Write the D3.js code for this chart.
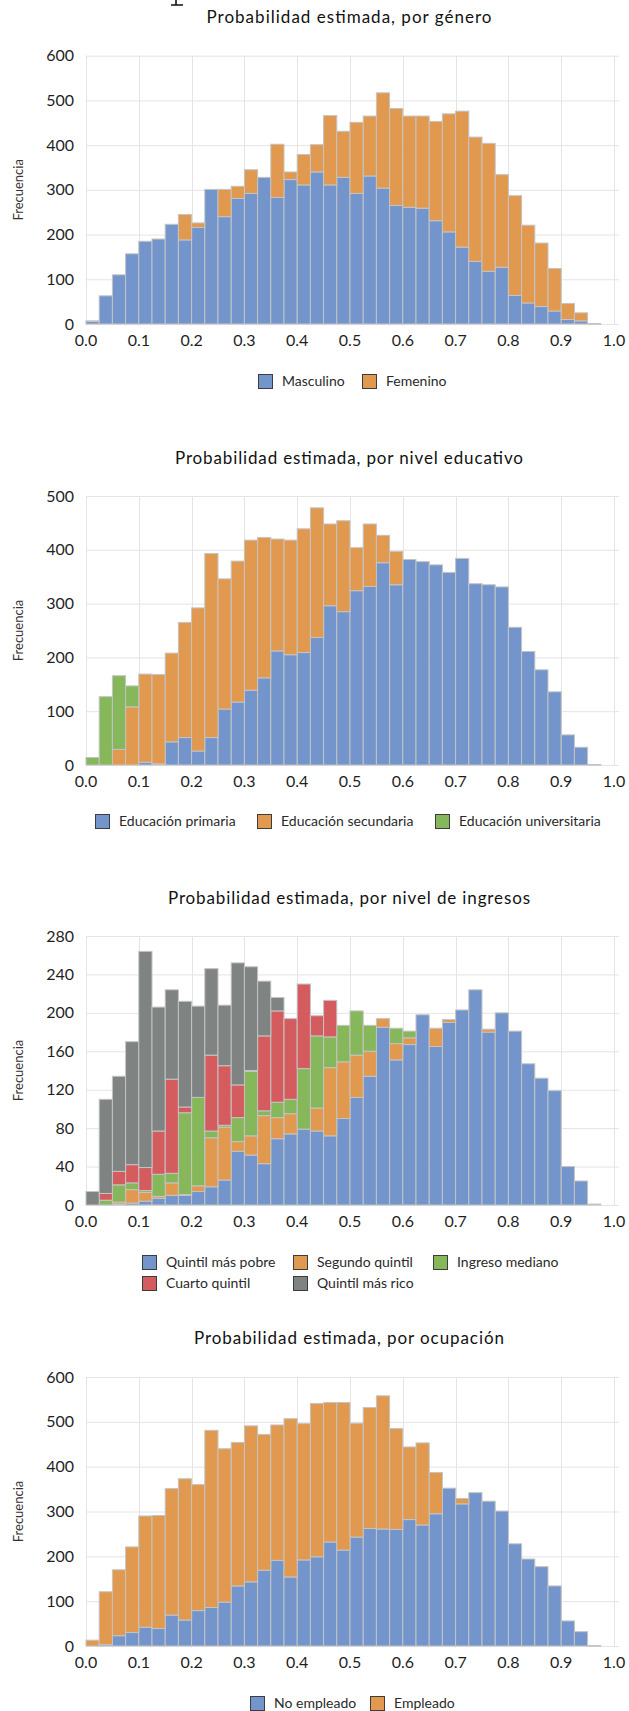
<!DOCTYPE html>
<html><head><meta charset="utf-8">
<script src="https://cdn.jsdelivr.net/npm/d3@7"></script>
<style>body{margin:0;background:#fff}svg{display:block}</style>
</head><body><svg id="c" width="629" height="1711"></svg>
<script>
// ---------- DATA ----------
const binWidth = 0.025;
const xTickLabels = ["0.0","0.1","0.2","0.3","0.4","0.5","0.6","0.7","0.8","0.9","1.0"];

const genderMasculino = [6,63,110,157,185,190,223,188,216,301,240,281,292,328,283,323,311,340,311,328,292,331,304,265,261,259,231,206,172,140,118,127,64,47,39,29,10,7,1,0];
const genderFemenino  = [1,0,0,0,0,0,0,57,10,0,61,27,53,0,119,17,68,61,155,103,159,134,213,217,204,206,222,264,304,278,286,207,223,174,142,95,36,18,0,0];

const eduPrimaria      = [0,0,0,0,5,2,43,51,26,51,104,117,139,162,212,205,209,237,296,285,324,332,376,335,382,378,372,358,384,337,335,331,256,211,177,136,56,33,1,0];
const eduSecundaria    = [0,0,29,108,164,166,165,214,266,342,242,262,279,261,208,213,230,241,152,169,80,116,51,62,0,0,0,0,0,0,0,0,0,0,0,0,0,0,0,0];
const eduUniversitaria = [14,127,137,39,0,0,0,0,0,0,0,0,0,0,0,0,0,0,0,0,0,0,0,0,0,0,0,0,0,0,0,0,0,0,0,0,0,0,0,0];

const incPobre   = [0,0,1,2,4,7,10,10,14,19,26,56,52,43,69,74,79,77,72,90,112,134,185,151,167,198,165,190,203,224,180,200,181,147,132,119,40,25,1,0];
const incSegundo = [0,0,2,14,9,2,13,1,6,51,55,10,20,50,22,21,0,24,71,59,44,26,9,17,7,0,19,3,0,0,3,0,0,0,0,0,0,0,0,0];
const incMediano = [0,5,18,7,2,23,10,85,92,7,2,25,67,5,16,15,63,75,32,38,46,27,0,16,7,0,0,0,0,0,0,0,0,0,0,0,0,0,0,0];
const incCuarto  = [0,7,14,19,24,45,98,6,0,79,62,34,1,78,95,84,88,21,38,0,0,0,0,0,0,0,0,0,0,0,0,0,0,0,0,0,0,0,0,0];
const incRico    = [14,98,99,128,225,129,93,110,95,90,63,127,108,57,14,0,0,0,0,0,0,0,0,0,0,0,0,0,0,0,0,0,0,0,0,0,0,0,0,0];

const occNoEmpleado = [0,3,23,30,42,39,69,58,79,86,98,134,143,169,191,154,192,199,232,214,243,262,261,260,282,270,295,352,317,342,323,301,228,194,177,134,56,32,1,0];
const occEmpleado   = [13,118,147,191,248,252,282,315,281,395,342,320,348,303,302,353,304,342,311,329,254,270,297,225,162,183,92,0,12,0,0,0,0,0,0,0,0,0,0,0];

const yTicks1 = [0,100,200,300,400,500,600];
const yTicks2 = [0,100,200,300,400,500];
const yTicks3 = [0,40,80,120,160,200,240,280];
const yTicks4 = [0,100,200,300,400,500,600];

// ---------- STYLE ----------
const C = {blue:"#7395CB", orange:"#E0994F", green:"#86B75A", red:"#D45C5E", gray:"#7F8382"};
const FONT = "Lato, 'Open Sans', sans-serif";
const svg = d3.select("#c");

// descender of a glyph cut off at the top edge of the page (image artifact)
svg.append("path").attr("d","M176,0 L176,4.5 M171,5 L183,5")
  .attr("stroke","#111").attr("stroke-width",1.6).attr("fill","none");

const x = d3.scaleLinear().domain([0,1]).range([86,614]);

function panel(p){
  const g = svg.append("g");
  const y = d3.scaleLinear().domain([0, d3.max(p.yTicks)]).range([p.zero, p.top]);
  // title
  g.append("text").attr("x",349).attr("y",p.titleY).attr("text-anchor","middle")
    .attr("font-family",FONT).attr("font-size",17).attr("fill","#111")
    .attr("textLength",p.titleW).attr("lengthAdjust","spacing").text(p.title);
  // grid
  g.append("g").selectAll("line.h").data(p.yTicks).join("line")
    .attr("x1",86).attr("x2",619).attr("y1",d=>y(d)+0.5).attr("y2",d=>y(d)+0.5)
    .attr("stroke","#e4e4e4").attr("stroke-width",1);
  g.append("g").selectAll("line.v").data(xTickLabels).join("line")
    .attr("x1",(d)=>Math.round(x(+d))+0.5).attr("x2",(d)=>Math.round(x(+d))+0.5)
    .attr("y1",p.top).attr("y2",p.zero).attr("stroke","#e4e4e4").attr("stroke-width",1);
  // y tick labels
  g.append("g").selectAll("text").data(p.yTicks).join("text")
    .attr("x",74).attr("y",d=>y(d)+5.5).attr("text-anchor","end")
    .attr("font-family",FONT).attr("font-size",16).attr("fill","#1f1f1f").text(d=>d);
  // x tick labels
  g.append("g").selectAll("text").data(xTickLabels).join("text")
    .attr("x",d=>x(+d)).attr("y",p.zero+22).attr("text-anchor","middle")
    .attr("font-family",FONT).attr("font-size",16).attr("fill","#1f1f1f").text(d=>d);
  // y label
  g.append("text").attr("transform",`translate(23,${(p.top+p.zero)/2}) rotate(-90)`)
    .attr("text-anchor","middle").attr("font-family",FONT).attr("font-size",13)
    .attr("fill","#333").text("Frecuencia");
  // stacked bars
  const keys = p.series.map(s=>s.name);
  const table = p.series[0].values.map((_,i)=>{
    const row = {x0:i*binWidth, x1:(i+1)*binWidth};
    p.series.forEach(s=>row[s.name]=s.values[i]);
    return row;
  });
  const stacked = d3.stack().keys(keys)(table);
  stacked.forEach((layer,k)=>{
    g.append("g").selectAll("rect").data(layer.filter(d=>d[1]-d[0]>0)).join("rect")
      .attr("x",d=>x(d.data.x0)).attr("width",d=>x(d.data.x1)-x(d.data.x0))
      .attr("y",d=>y(d[1])).attr("height",d=>Math.max(0.6,y(d[0])-y(d[1])))
      .attr("fill",p.series[k].color).attr("stroke","#c4c4c4").attr("stroke-width",1);
  });
  // legend
  p.legend.forEach(l=>{
    const s = p.series.find(s=>s.name===l.name);
    g.append("rect").attr("x",l.x+0.5).attr("y",l.y-6.5).attr("width",14).attr("height",14)
      .attr("fill",s.color).attr("stroke","#3c3c3c").attr("stroke-width",1);
    g.append("text").attr("x",l.x+24).attr("y",l.y+5).attr("font-family",FONT)
      .attr("font-size",14).attr("fill","#2a2a2a").text(s.label);
  });
}

panel({
  title:"Probabilidad estimada, por género", titleY:22.5, titleW:285,
  top:55.7, zero:324, yTicks:yTicks1,
  series:[{name:"m",label:"Masculino",values:genderMasculino,color:C.blue},
          {name:"f",label:"Femenino",values:genderFemenino,color:C.orange}],
  legend:[{name:"m",x:258,y:381},{name:"f",x:362,y:381}]
});
panel({
  title:"Probabilidad estimada, por nivel educativo", titleY:464, titleW:348,
  top:496, zero:765, yTicks:yTicks2,
  series:[{name:"p",label:"Educación primaria",values:eduPrimaria,color:C.blue},
          {name:"s",label:"Educación secundaria",values:eduSecundaria,color:C.orange},
          {name:"u",label:"Educación universitaria",values:eduUniversitaria,color:C.green}],
  legend:[{name:"p",x:95,y:821},{name:"s",x:257,y:821},{name:"u",x:435,y:821}]
});
panel({
  title:"Probabilidad estimada, por nivel de ingresos", titleY:904, titleW:362,
  top:936, zero:1205, yTicks:yTicks3,
  series:[{name:"q1",label:"Quintil más pobre",values:incPobre,color:C.blue},
          {name:"q2",label:"Segundo quintil",values:incSegundo,color:C.orange},
          {name:"q3",label:"Ingreso mediano",values:incMediano,color:C.green},
          {name:"q4",label:"Cuarto quintil",values:incCuarto,color:C.red},
          {name:"q5",label:"Quintil más rico",values:incRico,color:C.gray}],
  legend:[{name:"q1",x:142,y:1262},{name:"q2",x:293,y:1262},{name:"q3",x:433,y:1262},
          {name:"q4",x:142,y:1283},{name:"q5",x:293,y:1283}]
});
panel({
  title:"Probabilidad estimada, por ocupación", titleY:1344, titleW:310,
  top:1377, zero:1646, yTicks:yTicks4,
  series:[{name:"n",label:"No empleado",values:occNoEmpleado,color:C.blue},
          {name:"e",label:"Empleado",values:occEmpleado,color:C.orange}],
  legend:[{name:"n",x:250,y:1703},{name:"e",x:370,y:1703}]
});
</script></body></html>
